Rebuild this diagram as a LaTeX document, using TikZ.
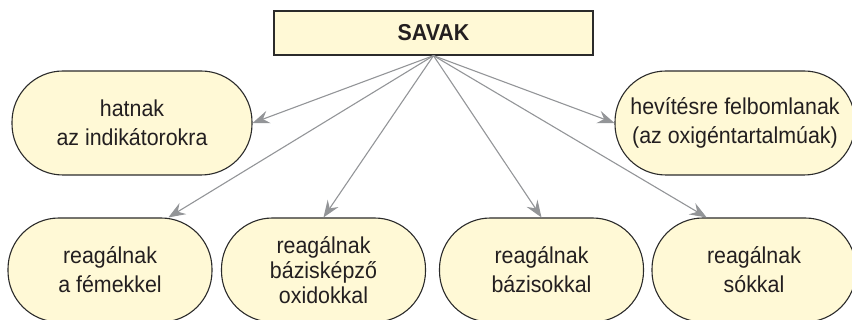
\documentclass[tikz,border=0pt]{standalone}
\usepackage{fontspec}
\setmainfont{Liberation Sans}[FakeStretch=0.93]
\usetikzlibrary{arrows.meta}

\definecolor{boxfill}{HTML}{FFF9D6}
\definecolor{boxline}{HTML}{2B2B2B}
\definecolor{arrowgray}{HTML}{939598}
\definecolor{textgray}{HTML}{231F20}

\begin{document}
\begin{tikzpicture}[x=1pt, y=-1pt,
    pill/.style={draw=boxline, line width=1.1pt, fill=boxfill, rounded corners=51pt,
        minimum height=104pt, align=center, text=textgray,
        font=\fontsize{23}{29}\selectfont},
    link/.style={draw=arrowgray, line width=1.1pt,
        -{Stealth[length=17pt, width=13pt, inset=6pt]}}]
    \useasboundingbox (0,0) rectangle (852,320);

    % title box
    \node[draw=boxline, line width=1.3pt, fill=boxfill, minimum width=319pt,
        minimum height=44pt, text=textgray,
        font=\bfseries\fontsize{23}{26}\selectfont] (savak) at (433.5,33) {SAVAK};

    % upper row
    \node[pill, minimum width=240pt] (indik) at (132,123) {hatnak\\az indikátorokra};
    \node[pill, minimum width=240pt] (hevit) at (735,123) {hevítésre felbomlanak\\(az oxigéntartalmúak)};

    % lower row
    \node[pill, minimum width=204pt] (femek) at (110,270) {reagálnak\\a fémekkel};
    \node[pill, minimum width=204pt, font=\fontsize{23}{25}\selectfont] (oxid) at (323.5,270) {reagálnak\\bázisképző\\oxidokkal};
    \node[pill, minimum width=204pt] (bazis) at (541.5,270) {reagálnak\\bázisokkal};
    \node[pill, minimum width=204pt] (sok) at (754,270) {reagálnak\\sókkal};

    \draw[link] (savak.south) -- (indik.east);
    \draw[link] (savak.south) -- (femek.42);
    \draw[link] (savak.south) -- (oxid.north);
    \draw[link] (savak.south) -- (bazis.north);
    \draw[link] (savak.south) -- (sok.132);
    \draw[link] (savak.south) -- (hevit.west);
\end{tikzpicture}
\end{document}
